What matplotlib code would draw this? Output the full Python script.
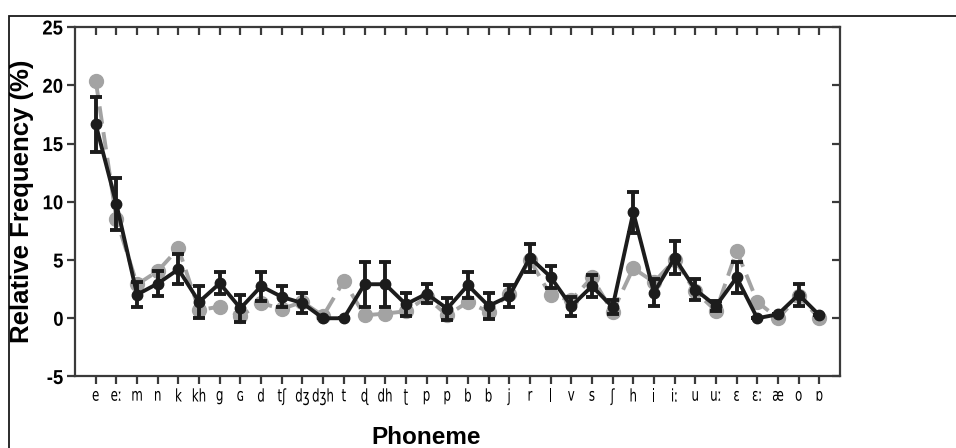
import matplotlib
matplotlib.use("Agg")
import matplotlib.pyplot as plt
from matplotlib.patches import Rectangle
from matplotlib.patheffects import AbstractPathEffect
from matplotlib.transforms import Affine2D

# phoneme inventory along the x axis
phonemes = ["e", "eː", "m", "n", "k", "kh", "g", "ɢ", "d", "tʃ", "dʒ", "dʒh",
            "t", "ɖ", "dh", "ʈ", "p", "p", "b", "b", "j", "r", "l", "v", "s",
            "ʃ", "h", "i", "iː", "u", "uː", "ɛ", "ɛː", "æ", "o", "ɒ"]

# mean relative frequency (%) with error bars
mean_freq = [16.65, 9.8, 2.03, 2.98, 4.2, 1.4, 3.0, 0.85, 2.75, 1.83, 1.3, 0.0,
             0.0, 2.92, 2.92, 1.2, 2.1, 0.83, 2.84, 1.06, 1.9, 5.2, 3.55, 1.03, 2.75,
             0.97, 9.08, 2.2, 5.19, 2.46, 1.06, 3.5, 0.0, 0.34, 2.03, 0.26]
mean_err = [2.35, 2.25, 1.1, 1.1, 1.3, 1.4, 0.95, 1.15, 1.25, 0.9, 0.85, 0.0,
            0.0, 1.95, 1.95, 1.0, 0.8, 0.95, 1.1, 1.15, 0.95, 1.2, 0.95, 0.8, 0.95,
            0.6, 1.75, 1.15, 1.4, 0.9, 0.45, 1.3, 0.0, 0.0, 0.95, 0.0]

# reference frequency (%) drawn as grey dashed line
ref_freq = [20.4, 8.5, 2.9, 4.05, 6.0, 0.7, 1.0, 0.2, 1.3, 0.8, 1.4, 0.2,
            3.2, 0.25, 0.4, 0.6, 1.8, 0.25, 1.4, 0.55, 2.1, 5.0, 1.98, 1.55, 3.5,
            0.55, 4.3, 3.1, 5.0, 2.3, 0.63, 5.79, 1.4, 0.0, 1.9, 0.0]

y_ticks = [-5, 0, 5, 10, 15, 20, 25]


class Reshape(AbstractPathEffect):
    """Rescale glyphs about their horizontal centre and top edge."""

    def __init__(self, sx, sy=1.0):
        super().__init__()
        self.sx = sx
        self.sy = sy

    def draw_path(self, renderer, gc, tpath, affine, rgbFace=None):
        ext = tpath.get_extents()
        cx = (ext.x0 + ext.x1) / 2
        top = ext.y1
        shape = (Affine2D().translate(-cx, -top)
                 .scale(self.sx, self.sy).translate(cx, top))
        renderer.draw_path(gc, tpath, shape + affine, rgbFace)


fig = plt.figure(figsize=(9.56, 4.48), dpi=100)
ax = fig.add_axes([0.0785, 0.1596, 0.8002, 0.7801])

x = list(range(len(phonemes)))
ax.plot(x, ref_freq, color="#a3a3a3", lw=2.8, ls=(0, (4.5, 2.2)),
        marker="o", ms=10, zorder=2)
ax.errorbar(x, mean_freq, yerr=mean_err, color="#1c1c1c", lw=2.8,
            marker="o", ms=7.5, elinewidth=2.8, capsize=4.5, capthick=2.8,
            zorder=3)

ax.set_xlim(-1, 36)
ax.set_ylim(-5, 25)
ax.set_xticks(x)
# tall, narrow phoneme labels
ax.set_xticklabels(phonemes, fontsize=9.5, family="DejaVu Sans")
for lab in ax.get_xticklabels():
    lab.set_path_effects([Reshape(0.9, 1.32)])
ax.set_yticks(y_ticks)
ax.set_yticklabels([str(v) for v in y_ticks], fontsize=14.5, fontweight="bold",
                   family="Liberation Sans")
for lab in ax.get_yticklabels():
    lab.set_path_effects([Reshape(0.92)])

for side in ax.spines:
    ax.spines[side].set_color("#3a3a3a")
    ax.spines[side].set_linewidth(1.6)

ax.tick_params(axis="both", which="both", color="#3a3a3a", width=1.6,
               length=6, top=True, right=True)
ax.tick_params(axis="x", direction="out", pad=2.5)
ax.tick_params(axis="y", direction="out", pad=2)
# inward ticks on the top and right spines
for t in ax.xaxis.get_major_ticks():
    t.tick2line.set_marker(3)
for t in ax.yaxis.get_major_ticks():
    t.tick2line.set_marker(0)

fig.text(22 / 956, 1 - 201 / 448, "Relative Frequency (%)", rotation=90,
         fontsize=18.5, fontweight="bold", family="Liberation Sans",
         ha="center", va="center")
fig.text(426 / 956, 1 - 437 / 448, "Phoneme", fontsize=17.5,
         fontweight="bold", family="Liberation Sans", ha="center",
         va="center")

# outer panel frame
fig.patches.append(Rectangle((9 / 956, -0.1), 1.2, 1 - 16 / 448 + 0.1,
                             transform=fig.transFigure, fill=False,
                             edgecolor="#1a1a1a", lw=1.3))

fig.savefig("out.png", dpi=100)
